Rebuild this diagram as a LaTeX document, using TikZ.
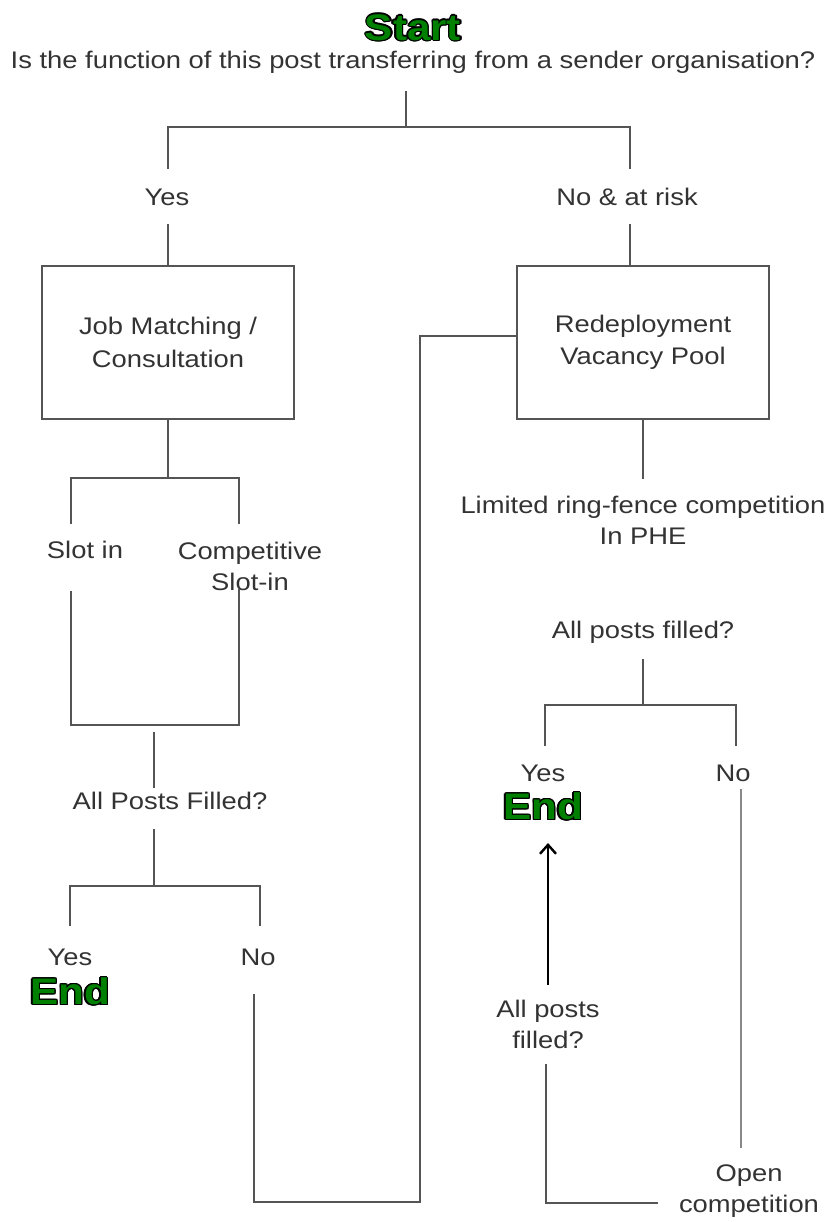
\documentclass[tikz,border=0pt]{standalone}
\usepackage{fontspec}
\setmainfont[FakeStretch=1.14]{Liberation Sans}
\usepackage{contour}
\contourlength{1.2pt}
\usetikzlibrary{arrows.meta}
\definecolor{txt}{HTML}{333333}
\definecolor{ln}{HTML}{555555}
\definecolor{grn}{rgb}{0,0.5,0}
\newcommand{\greenword}[1]{\contour{black}{\textcolor{grn}{#1}}}
\begin{document}
\begin{tikzpicture}[x=1pt,y=-1pt,
  lab/.style={text=txt,font=\fontsize{24}{31}\selectfont,align=center,inner sep=0pt},
  big/.style={font=\fontsize{37}{40}\selectfont\bfseries,inner sep=0pt},
  box/.style={draw=ln,line width=2pt,minimum width=252pt,minimum height=153pt,text=txt,font=\fontsize{24}{32}\selectfont,align=center},
  conn/.style={draw=ln,line width=2pt,line cap=rect},
  arr/.style={draw=black,line width=2.4pt,-{Straight Barb[length=9pt,width=16pt,line width=2.4pt]}}]
\useasboundingbox (0,0) rectangle (826,1222);

% texts
\node[big] (start) at (413,28) {\greenword{Start}};
\node[lab] (q) at (413,62) {Is the function of this post transferring from a sender organisation?};
\node[lab] (yes1) at (167,197) {Yes};
\node[lab] (norisk) at (627,197) {No \& at risk};
\node[box] (jm) at (168,342.5) {\raisebox{-4pt}{\shortstack{Job Matching /\\[7pt]Consultation}}};
\node[box] (rvp) at (643,342.5) {\raisebox{-4pt}{\shortstack{Redeployment\\[7pt]Vacancy Pool}}};
\node[lab] (slot) at (85,550) {Slot in};
\node[lab] (cslot) at (250,566) {Competitive\\Slot-in};
\node[lab] (apf1) at (170,801) {All Posts Filled?};
\node[lab] (yes2) at (70,957) {Yes};
\node[big] (end2) at (70,992) {\greenword{End}};
\node[lab] (no2) at (258,957) {No};
\node[lab] (lim) at (643,520) {Limited ring-fence competition\\In PHE};
\node[lab] (apf2) at (643,632) {All posts filled?};
\node[lab] (yes3) at (543,773) {Yes};
\node[big] (end3) at (543,807) {\greenword{End}};
\node[lab] (no3) at (733,773) {No};
\node[lab] (apf3) at (548,1024) {All posts\\filled?};
\node[lab] (open) at (749,1191) {Open\\competition};

% coordinates
\coordinate (qb) at (406,92);
\coordinate (qj) at (406,127);
\coordinate (ya) at (168,168);
\coordinate (yb) at (168,225);
\coordinate (na) at (630,168);
\coordinate (nb) at (630,225);
\coordinate (loopa) at (420,336);
\coordinate (loopb) at (420,1202);
\coordinate (loopc) at (254,1202);
\coordinate (no2b) at (254,995);
\coordinate (j2) at (168,478);
\coordinate (sa) at (71,523);
\coordinate (ca) at (239,523);
\coordinate (sb) at (71,592);
\coordinate (cb) at (239,590);
\coordinate (j3b) at (154,733);
\coordinate (apf1a) at (154,787);
\coordinate (apf1b) at (154,830);
\coordinate (j4) at (154,886);
\coordinate (y2a) at (70,925);
\coordinate (n2a) at (260,925);
\coordinate (limt) at (643,478);
\coordinate (apf2b) at (643,660);
\coordinate (j5) at (643,705);
\coordinate (y3a) at (545,745);
\coordinate (n3a) at (736,745);
\coordinate (n3b) at (741,790);
\coordinate (n3c) at (741,1147);
\coordinate (openl) at (657,1203);
\coordinate (ap3b) at (546,1065);
\coordinate (ap3t) at (548,985);
\coordinate (arrt) at (548,843);

% connectors
\draw[conn] (qb) -- (qj);
\draw[conn] (ya) -- (168,127) -- (630,127) -- (na);
\draw[conn] (yb) -- (jm.north);
\draw[conn] (nb) -- (nb |- rvp.north);
\draw[conn] (rvp.west |- loopa) -- (loopa) -- (loopb) -- (loopc) -- (no2b);
\draw[conn] (jm.south) -- (j2);
\draw[conn] (sa) -- (71,478) -- (239,478) -- (ca);
\draw[conn] (sb) -- (71,725) -- (239,725) -- (cb);
\draw[conn] (j3b) -- (apf1a);
\draw[conn] (apf1b) -- (j4);
\draw[conn] (y2a) -- (70,886) -- (260,886) -- (n2a);
\draw[conn] (rvp.south) -- (limt);
\draw[conn] (apf2b) -- (j5);
\draw[conn] (y3a) -- (545,705) -- (736,705) -- (n3a);
\draw[conn,draw=ln!70] (n3b) -- (n3c);
\draw[conn] (openl) -- (546,1203) -- (ap3b);
\draw[arr] (ap3t) -- (arrt);
\end{tikzpicture}
\end{document}
